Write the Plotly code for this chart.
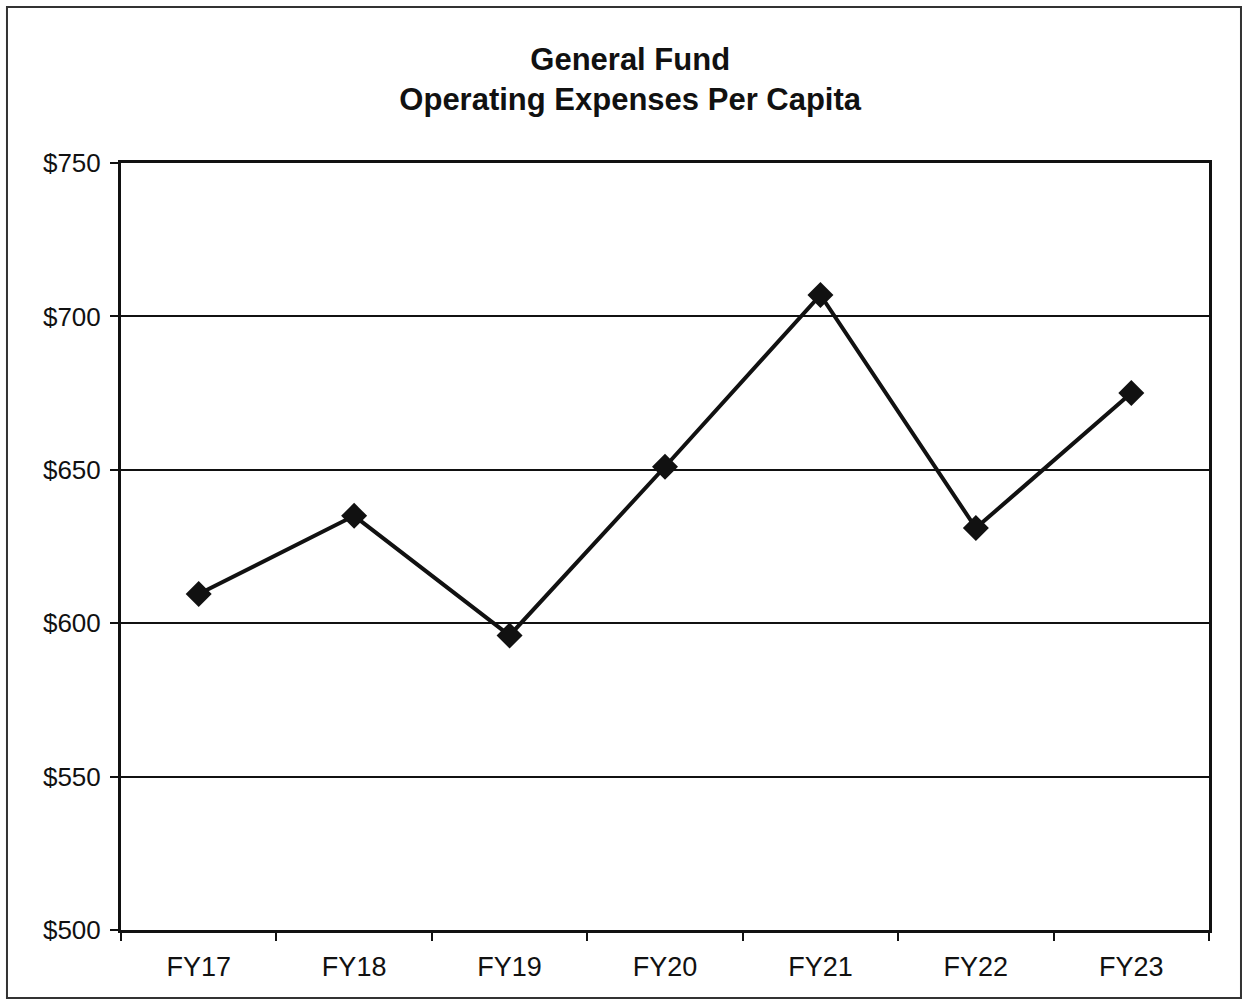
import plotly.graph_objects as go

categories = ["FY17", "FY18", "FY19", "FY20", "FY21", "FY22", "FY23"]
values = [609.5, 635, 596, 651, 707, 631, 675]
y_ticks = [500, 550, 600, 650, 700, 750]
y_tick_labels = ["$500", "$550", "$600", "$650", "$700", "$750"]

FONT = "Liberation Sans, Arial, sans-serif"

fig = go.Figure()
fig.add_trace(go.Scatter(
    x=categories, y=values, mode="lines+markers",
    line=dict(color="#111111", width=4),
    marker=dict(symbol="diamond", size=20, color="#111111"),
    showlegend=False,
))

fig.update_layout(
    width=1243, height=1002,
    margin=dict(l=121, r=34, t=163, b=72),
    paper_bgcolor="white", plot_bgcolor="white",
    font=dict(family=FONT, color="#111111"),
    title=dict(
        text="<b>General Fund<br>Operating Expenses Per Capita</b>",
        x=0.507, xanchor="center", y=0.9305, yanchor="middle",
        font=dict(size=31, family=FONT, color="#111111"),
    ),
    xaxis=dict(
        type="category", range=[-0.5, 6.5], tickson="boundaries",
        ticks="outside", ticklen=8,
        tickwidth=2, tickcolor="#111111", showline=True, linecolor="#111111",
        linewidth=3, mirror=True, showgrid=False,
        tickfont=dict(size=27, family=FONT, color="#111111"),
        ticklabelstandoff=11,
    ),
    yaxis=dict(
        range=[500, 750], tickvals=y_ticks, ticktext=y_tick_labels,
        ticks="outside", ticklen=8, tickwidth=2, tickcolor="#111111",
        showline=True, linecolor="#111111", linewidth=3, mirror=True,
        showgrid=True, gridcolor="#111111", gridwidth=2, zeroline=False,
        tickfont=dict(size=26, family=FONT, color="#111111"),
        ticklabelstandoff=4,
    ),
    shapes=[dict(
        type="rect", xref="paper", yref="paper",
        x0=-0.1048, x1=1.0294, y0=-0.0887, y1=1.2034,
        line=dict(color="#333333", width=2), fillcolor="rgba(0,0,0,0)",
        layer="below",
    )],
)

fig.write_html("out.html")
